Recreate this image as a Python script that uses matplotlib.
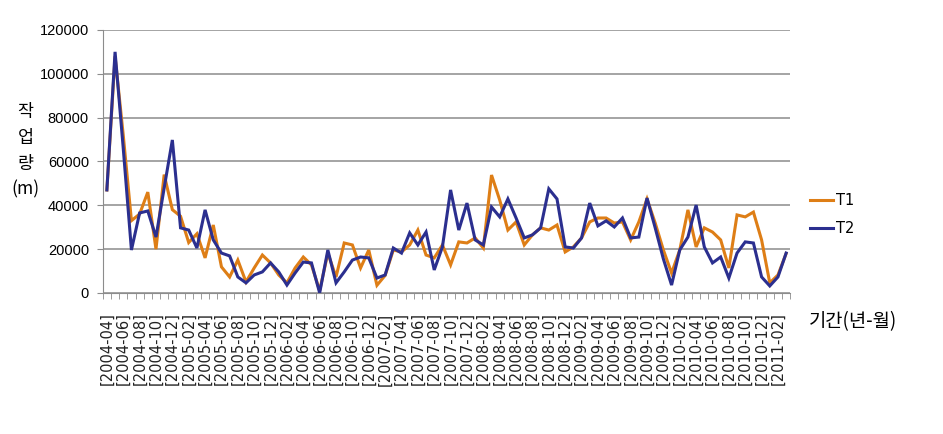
import numpy as np
import matplotlib
matplotlib.use('Agg')
from matplotlib import pyplot as plt
from matplotlib.ticker import FixedLocator

# monthly data 2004-04 .. 2011-03
months = []
y, m = 2004, 4
for _ in range(84):
    months.append('[%d-%02d]' % (y, m))
    m += 1
    if m > 12:
        y, m = y + 1, 1

t1 = [47000, 108000, 72000, 33000, 36000, 46000, 20000, 54000, 38000, 35000,
      23000, 27000, 16000, 31000, 11900, 7300, 15000, 5000, 11400, 17300,
      13700, 8200, 4600, 11400, 16400, 12800, 1000, 18200, 7300, 22800,
      21900, 11400, 19600, 3500, 8000, 19600, 18700, 21900, 28700, 17300,
      16000, 21900, 12800, 23300, 22800, 25100, 20500, 53800, 42400, 28700,
      32400, 21900, 26500, 29700, 28700, 31000, 18700, 21000, 25100, 32400,
      34200, 34200, 31900, 32400, 24200, 32400, 42900, 31900, 19600, 9100,
      19600, 37900, 21000, 29700, 27800, 24200, 11400, 35600, 34700, 36900,
      24200, 4600, 8200, 18000]
t2 = [47000, 110000, 66000, 19600, 36500, 37400, 25500, 47900, 69800, 29700,
      28700, 20500, 37900, 24200, 18200, 16900, 7300, 4600, 8200, 9600,
      13700, 9600, 3600, 9100, 14100, 13700, 0, 19600, 4600, 9600,
      15000, 16400, 16000, 6800, 8200, 20500, 18200, 27400, 21900, 27800,
      10500, 21000, 47000, 28700, 41000, 24200, 21900, 39200, 34700, 42900,
      34200, 25100, 26500, 29700, 47500, 42900, 21000, 20500, 25100, 41000,
      30600, 32900, 30100, 34200, 25100, 25500, 43300, 29700, 15500, 3600,
      19600, 25500, 40100, 21000, 13700, 16400, 6800, 18200, 23300, 22800,
      7300, 3200, 7300, 18200]

x = np.arange(len(months))

fig = plt.figure(figsize=(9.43, 4.34), dpi=100)
ax = fig.add_axes([0.109, 0.325, 0.729, 0.606])

ax.plot(x, t1, color='#DE7E16', lw=2.2, label='T1', solid_joinstyle='miter')
ax.plot(x, t2, color='#2B2F8F', lw=2.2, label='T2', solid_joinstyle='miter')

ax.set_xlim(-0.5, len(months) - 0.5)
ax.set_ylim(0, 120000)
ax.set_yticks(np.arange(0, 120001, 20000))
ax.yaxis.grid(True, color='#8c8c8c', lw=1.1)
ax.set_axisbelow(True)

ax.set_xticks(x[::2])
ax.set_xticklabels(months[::2], rotation=90, fontsize=10.5, family='DejaVu Sans',
                   color='#222222')
ax.xaxis.set_minor_locator(FixedLocator(np.arange(-0.5, len(months), 1)))
ax.tick_params(axis='x', which='major', length=0, pad=14)
ax.tick_params(axis='x', which='minor', length=4, color='#8c8c8c')
ax.tick_params(axis='y', length=4, color='#8c8c8c', labelsize=10.5, pad=6)
for lab in ax.get_yticklabels():
    lab.set_family('Liberation Sans')

for s in ['top', 'right']:
    ax.spines[s].set_visible(False)
ax.spines['left'].set_color('#8c8c8c')
ax.spines['bottom'].set_color('#8c8c8c')

fig.text(0.027, 0.652, '작\n업\n량\n(m)', ha='center', va='center', fontsize=12.5,
         linespacing=1.55, family=['Noto Sans CJK KR', 'DejaVu Sans'])
fig.text(0.858, 0.258, '기간(년-월)', ha='left', va='center', fontsize=13.5,
         family=['Noto Sans CJK KR', 'DejaVu Sans'])

fig.legend(loc='center left', bbox_to_anchor=(0.845, 0.505), frameon=False,
           handlelength=1.6, handletextpad=0.2, labelspacing=0.9, fontsize=10.5)

fig.savefig('out.png', dpi=100)
